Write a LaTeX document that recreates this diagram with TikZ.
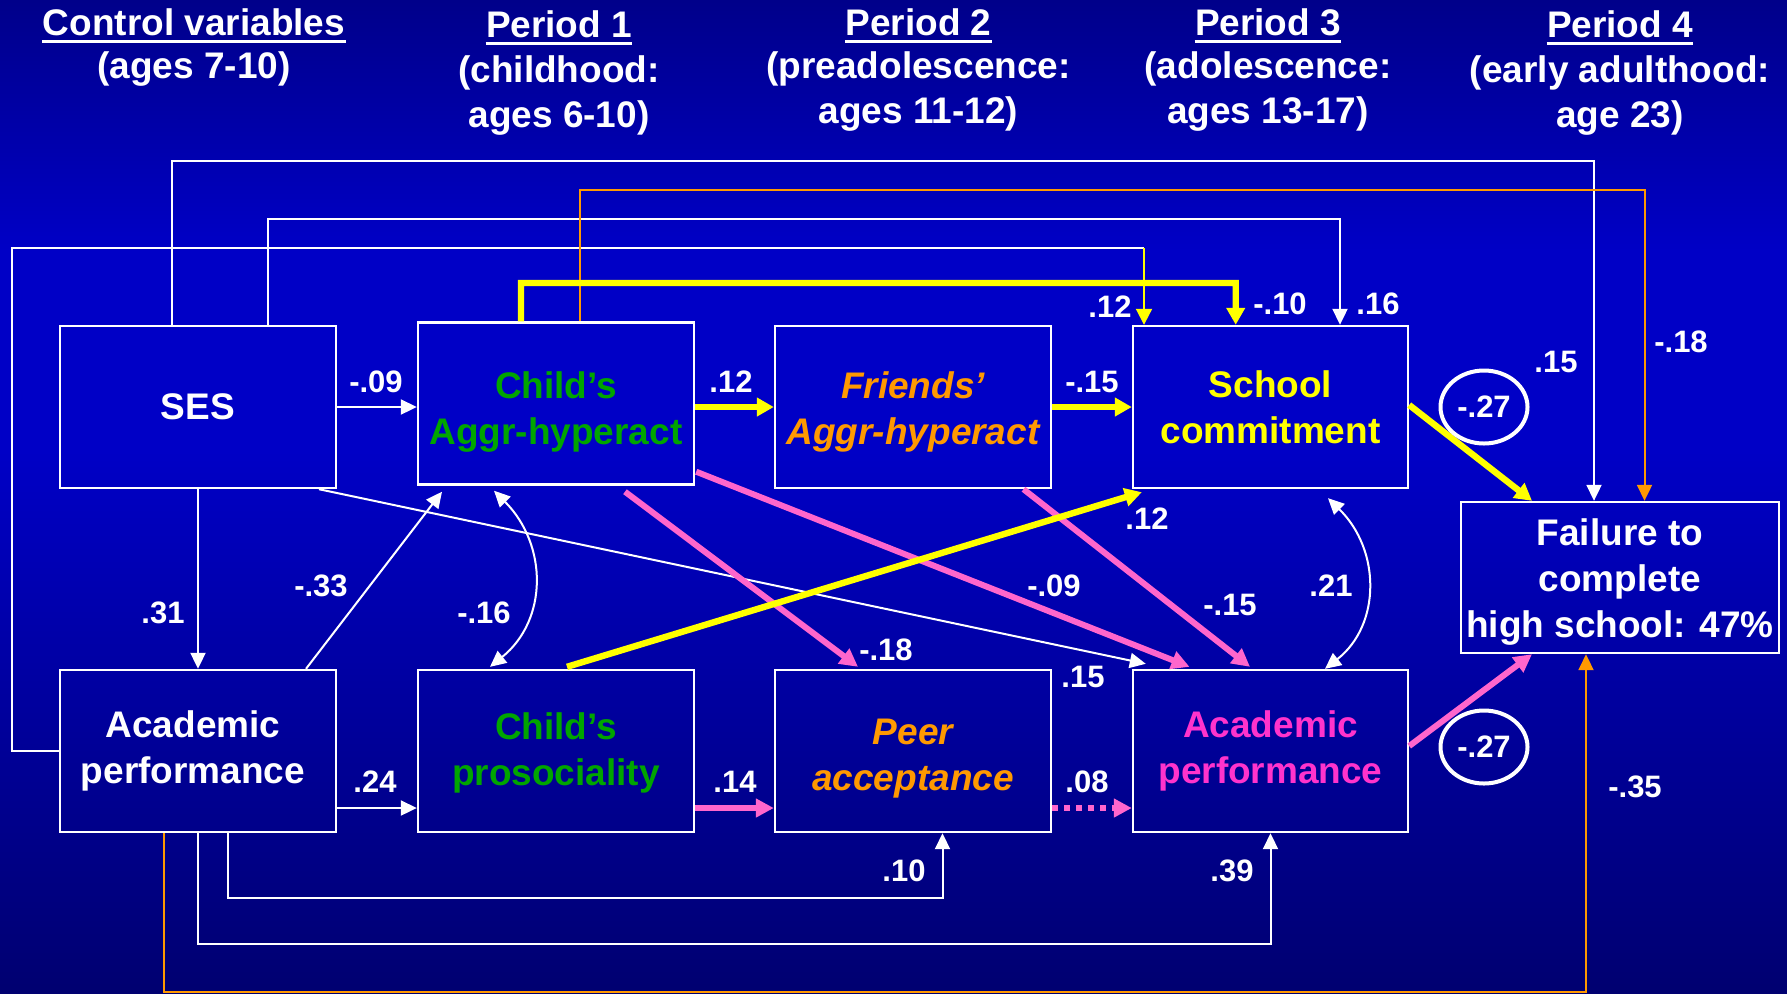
\documentclass[tikz,border=0pt]{standalone}
\usepackage{fontspec}
\setmainfont{Liberation Sans}
\usetikzlibrary{arrows.meta,calc,shapes.geometric}
\definecolor{bgtop}{RGB}{0,0,138}
\definecolor{bgmid}{RGB}{0,0,198}
\definecolor{bgbot}{RGB}{0,0,112}
\definecolor{cgreen}{RGB}{0,165,0}
\definecolor{corange}{RGB}{255,153,0}
\definecolor{cyellow}{RGB}{255,255,0}
\definecolor{cpink}{RGB}{255,102,204}
\definecolor{cpinktext}{RGB}{255,51,204}
\pgfdeclareverticalshading{bgshade}{100bp}{color(0bp)=(bgbot); color(25bp)=(bgbot); color(52.3bp)=(bgmid); color(62.4bp)=(bgmid); color(75bp)=(bgtop); color(100bp)=(bgtop)}
\newcommand\bigtxt{\fontsize{18.5}{23}\selectfont\bfseries}
\newcommand\numtxt{\fontsize{15.5}{18}\selectfont\bfseries}
\newcommand\lowerby[2]{\raisebox{-#1}[\height][\depth]{#2}}
\begin{document}
\begin{tikzpicture}[x=0.5pt,y=-0.5pt,
  box/.style={draw=white, line width=1.2pt, minimum width=138pt, minimum height=81pt, inner sep=0pt, align=center, font=\bigtxt, text=white},
  num/.style={text=white, font=\numtxt, inner sep=0pt},
  hdr/.style={text=white, font=\bigtxt, inner sep=0pt, anchor=base},
  uline/.style={draw=white, line width=1.5pt},
  wline/.style={draw=white, line width=1pt},
  warr/.style={wline, -{Triangle[length=8pt,width=7.5pt]}},
  warrs/.style={wline, {Triangle[length=8pt,width=7.5pt]}-{Triangle[length=8pt,width=7.5pt]}},
  oarr/.style={draw=corange, line width=1pt, -{Triangle[length=8pt,width=7.5pt]}},
  yarr/.style={draw=cyellow, line width=1pt, -{Triangle[length=8pt,width=8pt]}},
  yarrT/.style={draw=cyellow, line width=3.2pt, -{Triangle[length=8.5pt,width=9pt]}},
  parr/.style={draw=cpink, line width=3pt, -{Triangle[length=9pt,width=9pt]}},
  circ/.style={draw=white, line width=2pt, ellipse, minimum width=43.5pt, minimum height=36.5pt, inner sep=0pt, font=\numtxt, text=white}
]
\useasboundingbox (0,0) rectangle (1787,993);
\shade[shading=bgshade] (0,0) rectangle (1787,993);

% headers
\node[hdr] (h0) at (194,35) {Control variables};
\draw[uline] ($(h0.base west)+(0,6)$) -- ($(h0.base east)+(0,6)$);
\node[hdr] (h0b) at (194,78) {(ages 7-10)};
\node[hdr] (h1) at (559,37) {Period 1};
\draw[uline] ($(h1.base west)+(0,6)$) -- ($(h1.base east)+(0,6)$);
\node[hdr] (h1b) at (559,82) {(childhood:};
\node[hdr] (h1c) at (559,127) {ages 6-10)};
\node[hdr] (h2) at (918.5,35) {Period 2};
\draw[uline] ($(h2.base west)+(0,6)$) -- ($(h2.base east)+(0,6)$);
\node[hdr] (h2b) at (918.5,78) {(preadolescence:};
\node[hdr] (h2c) at (918.5,123) {ages 11-12)};
\node[hdr] (h3) at (1268,35) {Period 3};
\draw[uline] ($(h3.base west)+(0,6)$) -- ($(h3.base east)+(0,6)$);
\node[hdr] (h3b) at (1268,78) {(adolescence:};
\node[hdr] (h3c) at (1268,123) {ages 13-17)};
\node[hdr] (h4) at (1620,37) {Period 4};
\draw[uline] ($(h4.base west)+(0,6)$) -- ($(h4.base east)+(0,6)$);
\node[hdr] (h4b) at (1620,82) {(early adulthood:};
\node[hdr] (h4c) at (1620,127) {age 23)};

% boxes
\node[box] (ses) at (198,407) {SES};
\node[box, text=cgreen] (cagg) at (556,403.5) {\lowerby{4pt}{Child’s}\\\lowerby{4pt}{Aggr-hyperact}};
\node[box, text=corange, font=\bigtxt\itshape] (fagg) at (913,407) {\lowerby{2.5pt}{Friends’}\\\lowerby{2.5pt}{Aggr-hyperact}};
\node[box, text=cyellow, minimum width=137.5pt] (school) at (1270.5,407) {School\\commitment};
\node[box, minimum width=159.25pt, minimum height=75.5pt] (fail) at (1620,577.5) {\lowerby{2pt}{Failure to}\\\lowerby{2pt}{complete}\\\lowerby{2pt}{high school: 47\%}};
\node[box] (acad) at (198,751) {\hspace*{-5pt}Academic\\\hspace*{-5pt}performance};
\node[box, text=cgreen] (pros) at (556,751) {\lowerby{1pt}{Child’s}\\\lowerby{1pt}{prosociality}};
\node[box, text=corange, font=\bigtxt\itshape] (peer) at (913,751) {\lowerby{4pt}{Peer}\\\lowerby{4pt}{acceptance}};
\node[box, text=cpinktext, minimum width=137.5pt] (pacad) at (1270.5,751) {Academic\\performance};

% white thin connectors
\draw[warr] ($(ses.north)+(-26,0)$) |- (1594,161) -- ($(fail.north)+(-26,0)$);
\draw[warr] ($(ses.north)+(70,0)$) |- (1340,219) -- ($(school.north)+(69.5,0)$);
\draw[wline] (acad.west) -| (12,248) -- (1144,248);
\draw[yarr] (1144,248) -- ($(school.north)+(-126.5,0)$);
\draw[warr] (ses.east) -- (ses.east -| cagg.west);
\draw[warr] (ses.south) -- (acad.north);
\draw[warr] ($(acad.north)+(108,0)$) -- ($(cagg.south)+(-114,6)$);
\draw[warrs] ($(cagg.south)+(-62,5)$) .. controls (548,545) and (548,620) .. ($(pros.north)+(-66,-2)$);
\draw[warr] ($(ses.south)+(121,0)$) -- ($(pacad.north west)+(14,-5)$);
\draw[warrs] ($(school.south)+(57.5,9)$) .. controls (1381,550) and (1381,625) .. ($(pacad.north)+(54.5,0)$);
\draw[warr] ($(acad.east)+(0,57)$) -- ($(pros.west)+(0,57)$);
\draw[warr] ($(acad.south)+(30,0)$) |- (942.5,898) -- ($(peer.south)+(29.5,0)$);
\draw[warr] (acad.south) |- (1270.5,944) -- (pacad.south);

% orange connectors
\draw[oarr] ($(cagg.north)+(24,0)$) |- (1644.5,190) -- ($(fail.north)+(24.5,0)$);
\draw[oarr] ($(acad.south)+(-34,0)$) |- (1586,992) -- ($(fail.south)+(-34,0)$);

% pink connectors
\draw[parr] ($(cagg.south)+(69,6)$) -- ($(peer.north)+(-55,-2)$);
\draw[parr] ($(cagg.south east)+(1,-14)$) -- ($(pacad.north)+(-81,-2)$);
\draw[parr] ($(fagg.south)+(110.5,0)$) -- ($(pacad.north)+(-20.5,-2)$);
\draw[parr] ($(pros.east)+(0,57)$) -- ($(peer.west)+(0,57)$);
\draw[parr, dash pattern=on 3pt off 3pt] ($(peer.east)+(0,57)$) -- ($(pacad.west)+(0,57)$);
\draw[parr] ($(pacad.east)+(0,-5)$) -- ($(fail.south)+(-88,0)$);

% yellow thick connectors
\draw[yarrT] ($(cagg.north)+(-35,0)$) |- (1235.7,283) -- ($(school.north)+(-34.8,0)$);
\draw[yarrT] (cagg.east |- fagg.west) -- (fagg.west);
\draw[yarrT] (fagg.east) -- (school.west);
\draw[yarrT] ($(pros.north)+(11,-2)$) -- ($(school.south west)+(10,3)$);
\draw[yarrT] ($(school.east)+(0,-2)$) -- ($(fail.north)+(-88,0)$);

% circled coefficients
\node[circ] (e1) at (1484,407) {-.27};
\node[circ] (e2) at (1484,747) {-.27};

% coefficient labels
\node[num] (n1) at (1556,362) {.15};
\node[num] (n2) at (1681,342) {-.18};
\node[num] (n3) at (1378,304) {.16};
\node[num] (n4) at (1110,307) {.12};
\node[num] (n5) at (1280,304) {-.10};
\node[num] (n6) at (376,382) {-.09};
\node[num] (n7) at (731,382) {.12};
\node[num] (n8) at (1092,382) {-.15};
\node[num] (n9) at (1635,787) {-.35};
\node[num] (n10) at (904,871) {.10};
\node[num] (n11) at (1232,871) {.39};
\node[num] (n12) at (163,613) {.31};
\node[num] (n13) at (321,586) {-.33};
\node[num] (n14) at (484,613) {-.16};
\node[num] (n15) at (1083,677) {.15};
\node[num] (n16) at (886,650) {-.18};
\node[num] (n17) at (1054,586) {-.09};
\node[num] (n18) at (1230,605) {-.15};
\node[num] (n19) at (1147,519) {.12};
\node[num] (n20) at (1331,586) {.21};
\node[num] (n21) at (735,782) {.14};
\node[num] (n22) at (375,782) {.24};
\node[num] (n23) at (1087,782) {.08};
\end{tikzpicture}
\end{document}
